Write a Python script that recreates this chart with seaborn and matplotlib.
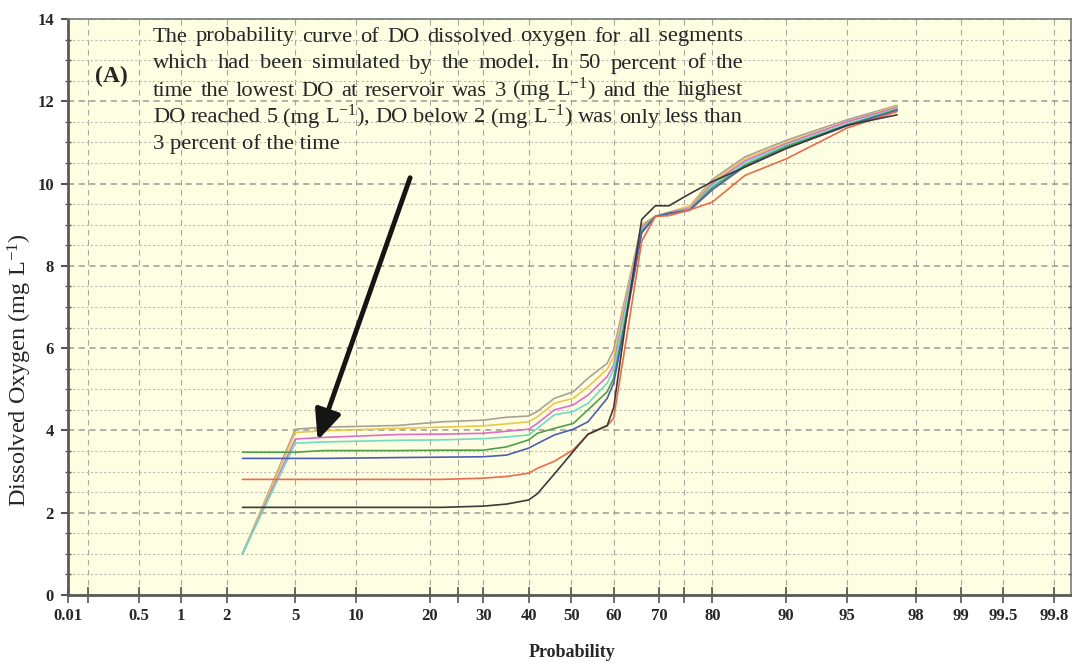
import numpy as np
import pandas as pd
import matplotlib
matplotlib.use("Agg")
import matplotlib.pyplot as plt
import seaborn as sns
from matplotlib.ticker import MultipleLocator, FixedLocator
from statistics import NormalDist

# probability (%) where the curves were read
prob = [2.5, 5, 7, 15, 22, 30, 35, 40, 42, 46, 50.5, 54, 58.5, 60,
        63, 66.3, 69.2, 72, 76, 80, 85, 90, 95, 97.4]

do_gray = [1.0, 4.03, 4.08, 4.12, 4.21, 4.25, 4.32, 4.35, 4.46, 4.78, 4.94, 5.27,
           5.63, 5.96, 7.4, 9.0, 9.2, 9.3, 9.45, 10.1, 10.65, 11.05, 11.55, 11.9]
do_yellow = [1.0, 3.95, 3.99, 4.05, 4.08, 4.11, 4.16, 4.21, 4.33, 4.66, 4.78, 5.06,
             5.49, 5.79, 7.3, 9.0, 9.2, 9.3, 9.45, 10.05, 10.6, 11.0, 11.5, 11.88]
do_magenta = [1.0, 3.79, 3.83, 3.9, 3.91, 3.93, 3.98, 4.03, 4.17, 4.5, 4.62, 4.86,
              5.31, 5.59, 7.2, 8.95, 9.2, 9.3, 9.4, 10.0, 10.55, 10.97, 11.5, 11.85]
do_cyan = [1.0, 3.69, 3.72, 3.76, 3.77, 3.8, 3.84, 3.89, 4.05, 4.38, 4.46, 4.66,
           5.15, 5.47, 7.1, 8.9, 9.2, 9.28, 9.38, 9.95, 10.5, 10.93, 11.45, 11.82]
do_green = [3.47, 3.47, 3.51, 3.51, 3.52, 3.52, 3.6, 3.77, 3.93, 4.05, 4.17, 4.5,
            4.94, 5.27, 6.9, 8.85, 9.2, 9.28, 9.36, 9.9, 10.45, 10.9, 11.42, 11.8]
do_blue = [3.32, 3.32, 3.32, 3.34, 3.35, 3.36, 3.4, 3.57, 3.68, 3.89, 4.03, 4.21,
           4.78, 5.15, 6.8, 8.8, 9.2, 9.27, 9.35, 9.85, 10.42, 10.86, 11.4, 11.78]
do_red = [2.81, 2.81, 2.81, 2.81, 2.81, 2.84, 2.88, 2.96, 3.08, 3.25, 3.53, 3.9,
          4.11, 4.3, 6.3, 8.6, 9.2, 9.22, 9.36, 9.55, 10.2, 10.6, 11.35, 11.75]
do_black = [2.13, 2.13, 2.13, 2.13, 2.13, 2.16, 2.21, 2.31, 2.46, 2.94, 3.49, 3.91,
            4.12, 4.55, 6.83, 9.13, 9.46, 9.46, 9.75, 10.05, 10.4, 10.85, 11.42, 11.67]

series = {
    "gray": do_gray, "yellow": do_yellow, "magenta": do_magenta, "cyan": do_cyan,
    "green": do_green, "blue": do_blue, "red": do_red, "black": do_black,
}
colors = {
    "gray": "#a9a196", "yellow": "#e6c84e", "magenta": "#e06ccc", "cyan": "#6fdcc4",
    "green": "#4e9f4a", "blue": "#4d5db5", "red": "#ef6a4a", "black": "#3a3a3a",
}

xticks = [0.135, 0.5, 1, 2, 5, 10, 20, 30, 40, 50, 60, 70, 80, 90, 95, 98, 99, 99.5, 99.8]
xlabels = ["0.01", "0.5", "1", "2", "5", "10", "20", "30", "40", "50", "60", "70",
           "80", "90", "95", "98", "99", "99.5", "99.8"]
xextra = [0.2, 25, 75]

note = [
    "The probability curve of DO dissolved oxygen for all segments",
    "which had been simulated by the model. In 50 percent of the",
    "time the lowest DO at reservoir was 3 (mg L$^{-1}$) and the highest",
    "DO reached 5 (mg L$^{-1}$), DO below 2 (mg L$^{-1}$) was only less than",
    "3 percent of the time",
]

df = pd.concat([pd.DataFrame({"prob": prob, "do": v, "seg": k}) for k, v in series.items()])

# normal probability scale for the x axis
nd = NormalDist()
_ppf = np.vectorize(nd.inv_cdf, otypes=[float])
_cdf = np.vectorize(nd.cdf, otypes=[float])


def fwd(p):
    p = np.clip(np.asarray(p, dtype=float) / 100.0, 1e-9, 1 - 1e-9)
    return _ppf(p)


def inv(z):
    return _cdf(np.asarray(z, dtype=float)) * 100.0


sns.set_style("ticks")
plt.rcParams["font.family"] = ["Liberation Serif", "DejaVu Serif"]
plt.rcParams["mathtext.fontset"] = "custom"
plt.rcParams["mathtext.rm"] = "Liberation Serif"
plt.rcParams["mathtext.default"] = "regular"

W, H = 1072, 664
fig = plt.figure(figsize=(W / 100, H / 100), dpi=100)
ax = fig.add_axes([68 / W, 1 - 595 / H, 1003 / W, 576 / H])
ax.set_facecolor("#fefee2")

sns.lineplot(data=df, x="prob", y="do", hue="seg", palette=colors, estimator=None,
             sort=False, legend=False, linewidth=1.2, ax=ax)

ax.set_xscale("function", functions=(fwd, inv))
ax.set_xlim(inv(-3.0), inv(2.98))
ax.set_ylim(0, 14)

ax.xaxis.set_major_locator(FixedLocator(xticks))
ax.set_xticklabels(xlabels)
ax.xaxis.set_minor_locator(FixedLocator(xextra))
ax.yaxis.set_major_locator(MultipleLocator(2))
ax.yaxis.set_minor_locator(MultipleLocator(0.5))

ax.grid(True, axis="x", which="both", ls=(0, (5, 4)), color="#a8a8a0", lw=0.8)
ax.grid(True, axis="y", which="major", ls=(0, (4, 3)), color="#9a9a94", lw=1.1)
ax.grid(True, axis="y", which="minor", ls=(0, (2, 2)), color="#bdbdb4", lw=0.8)

ax.tick_params(axis="x", which="both", direction="inout", length=12, width=1.2,
               color="#555555", pad=3)
ax.tick_params(axis="y", which="major", direction="out", length=5, width=1.5,
               color="#555555", pad=5)
ax.tick_params(axis="y", which="minor", direction="inout", length=4, width=1.0,
               color="#555555", right=True)
for lab in ax.get_xticklabels() + ax.get_yticklabels():
    lab.set_fontweight("bold")
    lab.set_fontsize(12)

for side in ["left", "bottom"]:
    ax.spines[side].set_color("#5a5a5a")
    ax.spines[side].set_linewidth(2)
for side in ["top", "right"]:
    ax.spines[side].set_color("#7a7a7a")
    ax.spines[side].set_linewidth(1.2)

ax.set_xlabel("Probability", fontsize=13, fontweight="bold")
ax.xaxis.set_label_coords(0.503, -0.085)
ax.set_ylabel("Dissolved Oxygen (mg L$^{-1}$)", fontsize=17.5)
ax.yaxis.set_label_coords(-0.034, 0.39)

# justified note text (last line left aligned)
renderer = fig.canvas.get_renderer()
x_left, x_right = 153, 743
for i, line in enumerate(note):
    y = 1 - (41.5 + 27 * i) / H
    if i == len(note) - 1:
        fig.text(x_left / W, y, line, fontsize=16.2, ha="left", va="baseline")
        continue
    words = line.split(" ")
    texts = [fig.text(0, y, w, fontsize=16.2, ha="left", va="baseline") for w in words]
    widths = [t.get_window_extent(renderer).width for t in texts]
    gap = (x_right - x_left - sum(widths)) / (len(words) - 1)
    x = x_left
    for t, w in zip(texts, widths):
        t.set_x(x / W)
        x += w + gap

fig.text(95 / W, 1 - 82 / H, "(A)", fontsize=17, fontweight="bold",
         ha="left", va="baseline")

ax.annotate("", xy=(0.248, 0.264), xytext=(0.342, 0.729), xycoords="axes fraction",
            arrowprops=dict(arrowstyle="-|>,head_length=0.9,head_width=0.4",
                            lw=3.5, color="#151515", mutation_scale=20))

fig.savefig("out.png", dpi=100)
